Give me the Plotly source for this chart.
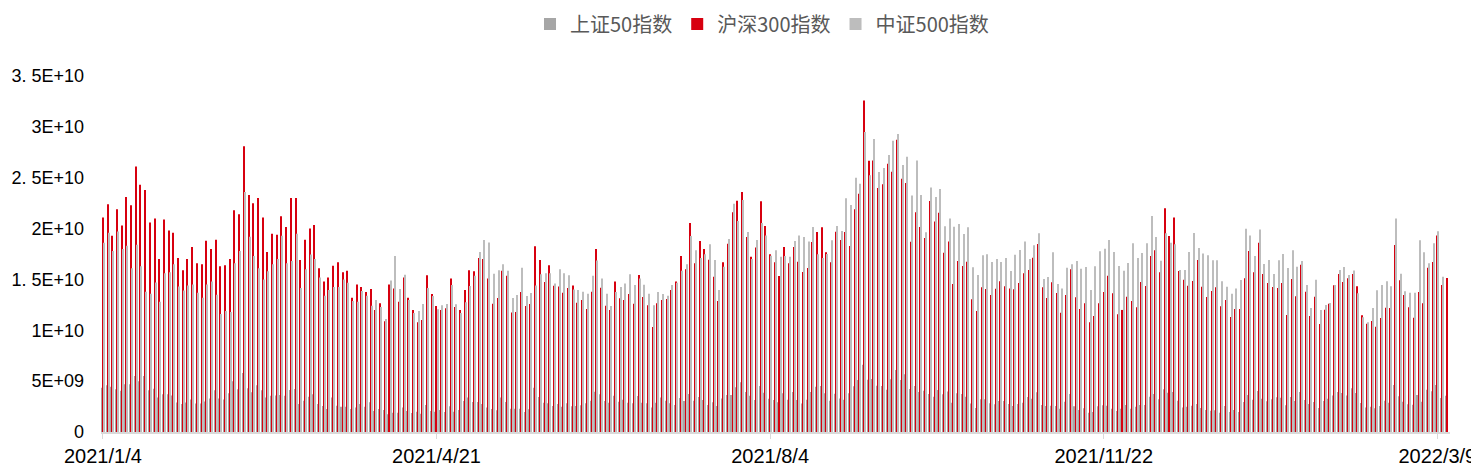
import pandas as pd
import plotly.graph_objects as go

# trading days 2021/1/4 .. 2022/3/11 (weekdays minus exchange holidays)
HOLIDAYS = ['2021-02-11', '2021-02-12', '2021-02-15', '2021-02-16', '2021-02-17',
            '2021-04-05', '2021-05-03', '2021-05-04', '2021-05-05', '2021-06-14',
            '2021-09-20', '2021-09-21', '2021-10-01', '2021-10-04', '2021-10-05',
            '2021-10-06', '2021-10-07', '2022-01-03', '2022-01-31', '2022-02-01',
            '2022-02-02', '2022-02-03', '2022-02-04']
days = [d for d in pd.bdate_range('2021-01-04', '2022-03-11') if d.strftime('%Y-%m-%d') not in HOLIDAYS]
dates = [f"{d.year}/{d.month}/{d.day}" for d in days]

# values in 1e8
sz50 = [43.6, 46, 44.6, 42, 40.6, 47, 47, 55, 50, 55, 41, 42.6, 34, 37, 37, 36, 29, 27.5, 29, 32,
        28, 28, 30, 33, 41, 33, 32, 38, 50, 42, 58, 43, 39, 46, 41, 34,
        35.7, 36, 36.4, 35.7, 41.3, 42.3, 27.5, 30.8, 34.7, 37, 27.5, 25.6, 22.6, 34, 25.9,
        24.9, 24.9, 22.6, 24.2, 27.5, 24.9, 29.2, 20.6, 22.6, 21.6, 17.4, 19, 19, 24.2, 20.6,
        18.7, 20, 18, 26.5, 20.6,
        20, 21.6, 19.7, 25.2, 20, 21.6, 30.5, 33.8, 29.5, 29.5, 27.5, 24.2, 22.6, 21.3, 33.8,
        29.5, 22.9, 22.9, 22.9, 19.7, 22.3, 43.6, 34.4, 28.8, 28.2, 25.6, 27.5, 24.9, 28.2,
        25.2, 25.6, 26.2, 28.2, 30.8, 39.6, 37,
        30.5, 28.8, 35.7, 29.8, 31.8, 28.8, 28.2, 35.4, 28.8, 28.2, 24.2, 28.8, 34, 30.8, 28.2,
        26.5, 33.4, 30.5, 37.4, 30.8, 34.4, 31.5, 26.5, 29.2, 25.6, 33, 36.4, 36.4, 43.9, 49,
        39.3, 35.7, 31.5, 45.2, 38.7, 32.8,
        31.5, 29.2, 38, 31.8, 39.3, 31.5, 27.9, 31.8, 39.3, 44.6, 45.2, 38, 30.8, 37.7, 33,
        31.8, 38, 44.9, 51.1, 66, 51.4, 52.1, 45.5, 45.2, 41.6, 51.8, 60.9, 51.1, 56.7, 42.3,
        45.2, 39.3, 40.6, 37.4, 34.7, 41.3,
        37, 39.7, 28.8, 38, 37.4, 34.7, 27.9, 23.6, 32.1, 32.1, 28.2, 27.2, 30.5, 30.5, 27.5,
        25.6, 27.5, 28.8, 34.4, 32.8, 39, 26.5, 25.6, 25.9, 25.6, 22.9, 29.8, 37.4, 25.2, 21.6,
        23.3, 19, 19.7, 25.2, 26.2,
        25.9, 22.9, 20.6, 22.9, 26.5, 22.9, 24.9, 26.5, 26.5, 34.7, 37.4, 32.1, 42, 38.7, 39.3,
        30.8, 24.2, 24.9, 25.9, 27.5, 23.6, 21.6, 21, 21.3, 19, 25.6, 19.7, 21.6, 19.7, 29.5,
        36.4, 31.8, 40.3, 32.8, 30.2, 32.1,
        34.1, 33.7, 26.2, 34.4, 30.5, 39.3, 31.5, 27.5, 29.5, 23.6, 30.5, 32.8, 36, 39.3, 38.3,
        36, 42.9, 38.3, 28.5, 24.2, 24.9, 23.3, 25.6, 30.8, 28.8, 46.2, 35.1, 29.8, 27.2, 26.9,
        36.4, 29.8, 41.6, 40, 46.2, 33.4, 35.7]

hs300 = [211, 224, 193, 219, 203, 231, 223, 261, 243, 238, 206, 210, 170, 209, 198, 196, 171, 159,
         170, 182, 166, 165, 188, 180, 189, 163, 164, 170, 218, 214, 281, 233, 225, 230, 211, 177,
         195, 194, 212, 201.5, 230, 230, 169, 189, 200, 203.5, 161, 148, 152, 163.5, 167, 157,
         158.6, 132, 145, 142.5, 137.6, 140.6, 120, 126.5, 109, 145, 141, 128, 152, 132, 120, 108,
         110, 154, 135.6,
         123.9, 120, 121.6, 151, 123, 120, 139.6, 159, 158, 171, 170, 151, 126, 131.7, 158.6,
         153.7, 117.6, 118, 137.6, 123.9, 125.8, 182.5, 169, 147.5, 164, 143.8, 143, 137, 141.6,
         144, 127, 129.8, 121, 138, 180, 141.9,
         124, 120, 148, 131.4, 129.8, 135.7, 126, 154.3, 132.7, 124.5, 103.2, 126.5, 129.8, 130.7,
         139.6, 148, 173, 160, 205.4, 165.8, 187.8, 180, 169.4, 152.7, 128.8, 167, 185, 216, 227.4,
         236, 191.7, 172.3, 181.5, 226.8, 202.5, 174.7,
         166.8, 153.3, 181.9, 166, 181.9, 167.4, 157.3, 161.2, 186.8, 196.6, 201.2, 176.6, 166.8,
         196.9, 188.7, 196.6, 182.8, 218.9, 234.3, 326, 266.7, 267, 239.9, 243.5, 263.8, 255.9,
         287.4, 249, 244.8, 187, 216, 201.5, 190.7, 227, 207, 215.6,
         176.3, 187.4, 145.5, 168, 163.2, 167.4, 130.4, 119, 142.2, 140.6, 134.7, 140.9, 148.1,
         143.2, 141.2, 140.3, 146.5, 156, 159.2, 171.3, 184.8, 142.2, 131.7, 147.2, 136.6, 117.3,
         134.7, 159.9, 132.4, 120.9, 126.5, 107.8, 114, 126.5, 137.6,
         153.7, 136.3, 115.7, 120, 133, 128.8, 122.6, 147.5, 143.5, 173, 178.6, 157, 219.9, 192.7,
         211, 158.3, 149.7, 143.8, 148.4, 169.1, 142.8, 132.7, 138.6, 142.2, 123.6, 129.8, 113,
         120.9, 120.9, 151.1, 177.9, 157, 186.1, 155.3, 146.5, 142.5,
         141.6, 146.5, 115, 150.4, 133.4, 164.5, 137.9, 114, 133, 106.2, 120.2, 126.1, 144.2, 155.3,
         147.5, 151.1, 155.3, 143.2, 114.7, 106.5, 109.1, 103.5, 112.1, 122.2, 121.9, 183.8, 149.1,
         134.7, 122.6, 112.4, 137.6, 126.5, 161.5, 167.1, 193.3, 144.5, 151.4]

zz500 = [186, 196, 178, 197, 180, 183, 161, 184, 163, 138, 136, 147, 128, 156, 157, 165, 143, 139,
         144, 145, 137, 132, 145, 148, 135, 116, 119, 118, 166, 178, 236, 192, 173, 161, 150, 158,
         165, 170, 193, 166, 168, 195, 141.6, 160, 174.6, 170, 152, 134, 139.6, 142.5, 142.5, 150,
         146.8, 128.8, 128, 138.6, 134, 124, 129.8, 123, 111, 149, 173, 140.6, 154.6, 129.8, 117,
         119, 125.8, 141.6, 133.7,
         120.6, 124.5, 125.8, 144.5, 125.5, 117, 127.5, 143.5, 153.7, 177, 188.7, 186.4, 155.6,
         159, 165, 158.6, 131.7, 134.7, 161.5, 133.7, 136.6, 144, 155, 156, 156, 146, 160, 156,
         154, 140, 139.6, 138, 136, 153.7, 168.7, 151,
         136, 123.9, 137.6, 142.5, 146, 155, 144.5, 151, 144.8, 136, 124.5, 137.6, 135.7, 134,
         144.5, 146.8, 158.6, 165, 192.7, 178.6, 171, 174.7, 184.5, 169, 139.6, 162.5, 189.7,
         224.4, 207.4, 228, 196.6, 170, 188.7, 205.4, 193.3, 173.3,
         178.6, 172.3, 173, 172.3, 187.8, 193.3, 191.7, 187.4, 201.5, 174.7, 171, 175, 188.4,
         202.5, 197.6, 229.7, 223.1, 250, 244, 294.9, 252.3, 288, 255.6, 259.5, 272.3, 286.4,
         292.9, 262.5, 270.6, 232.6, 267, 233, 196.3, 240.5, 231, 238.9,
         202.2, 210, 201.8, 204.5, 194.6, 201.2, 161.9, 154.3, 173.7, 174.7, 167.1, 170, 167.1,
         171, 158.3, 174.3, 178.9, 187.4, 170, 183.5, 195.3, 150.4, 152.4, 176.6, 145.5, 141.2,
         161.5, 164.8, 168.1, 160.5, 162.2, 139.6, 162.9, 177.6, 180.2,
         188.7, 176.9, 163.2, 158.6, 166.1, 185.5, 171, 176, 185.5, 212.3, 191.7, 168.4, 195.3,
         186.1, 184.5, 159.2, 159.2, 176.9, 195.6, 180.9, 175.6, 173.7, 168.8, 168.8, 148.1,
         142.8, 136, 141.2, 149.4, 199.9, 193.3, 173, 199.2, 165.1, 169.1, 155.3,
         168.8, 175, 161.2, 178.6, 162.5, 168.1, 144.5, 121.9, 149.7, 119.9, 124.8, 126.8, 144.5,
         159.2, 162.2, 154.3, 158.9, 136.3, 112.7, 107.8, 121.9, 139.3, 144.5, 148.1, 143.2, 210,
         155.6, 138.3, 136.9, 136.9, 188.4, 176.6, 165.8, 185.5, 197.3, 152.7, None]

series = [('上证50指数', sz50, '#A6A6A6'),
          ('沪深300指数', hs300, '#D7000F'),
          ('中证500指数', zz500, '#BDBDBD')]

y_ticks = [0, 5e9, 1e10, 1.5e10, 2e10, 2.5e10, 3e10, 3.5e10]
y_labels = ['0', '5E+09', '1E+10', '1. 5E+10', '2E+10', '2. 5E+10', '3E+10', '3. 5E+10']
x_ticks = [dates[i] for i in (0, 71, 142, 213, 284)]

fig = go.Figure()
for name, vals, color in series:
    fig.add_trace(go.Bar(
        x=dates, y=[v * 1e8 if v is not None else None for v in vals],
        name=name, marker=dict(color=color, line=dict(width=0))
    ))

# page body has an 8px default margin, so the figure is 8px smaller than the window
fig.update_layout(
    width=1471, height=466,
    margin=dict(l=93, r=29, t=68, b=42, autoexpand=False),
    barmode='group', bargap=0.35, bargroupgap=0,
    plot_bgcolor='white', paper_bgcolor='white',
    font=dict(family='Liberation Sans, Arial, sans-serif', color='#000000'),
    legend=dict(orientation='h', x=0.49, xanchor='center', y=1.146, yanchor='middle',
                font=dict(family='Noto Sans CJK SC', size=20, color='#595959'),
                itemwidth=30, traceorder='normal'),
    showlegend=True,
)
fig.update_xaxes(type='category', range=[-0.4, len(dates) - 0.3],
                 tickvals=x_ticks, ticktext=x_ticks, tickangle=0,
                 showgrid=False, showline=True, linecolor='#D9D9D9', linewidth=2,
                 ticks='outside', ticklen=5, tickcolor='#D9D9D9',
                 tickfont=dict(size=20, color='#000000'))
fig.update_yaxes(range=[0, 3.5e10], tickvals=y_ticks, ticktext=y_labels,
                 showgrid=False, zeroline=False, showline=False, ticks='',
                 ticklabelstandoff=16, tickfont=dict(size=18, color='#000000'))

fig.write_html("out.html")
